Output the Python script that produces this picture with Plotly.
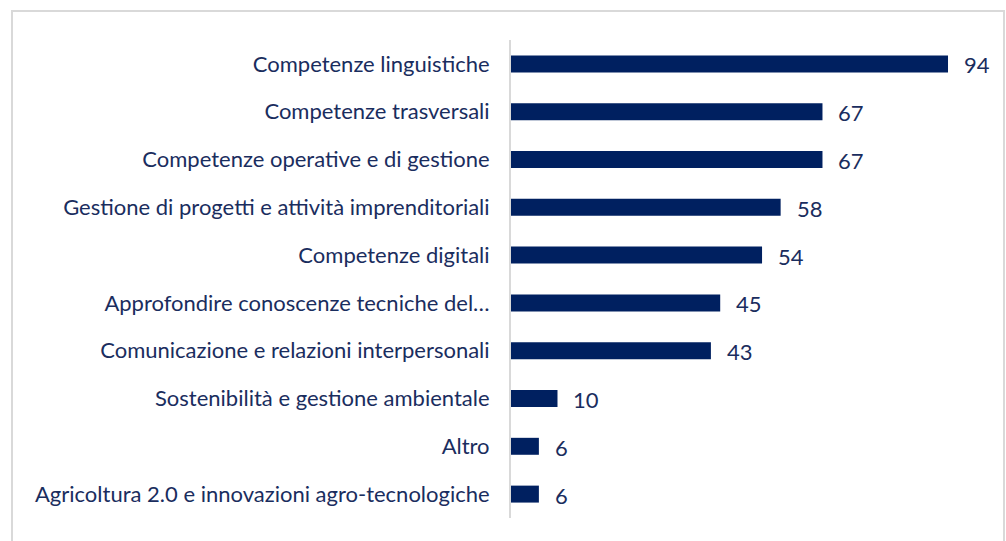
import plotly.graph_objects as go

# Survey categories (top to bottom as displayed) and their counts
categories = [
    "Competenze linguistiche",
    "Competenze trasversali",
    "Competenze operative e di gestione",
    "Gestione di progetti e attività imprenditoriali",
    "Competenze digitali",
    "Approfondire conoscenze tecniche del…",
    "Comunicazione e relazioni interpersonali",
    "Sostenibilità e gestione ambientale",
    "Altro",
    "Agricoltura 2.0 e innovazioni agro-tecnologiche",
]
values = [94, 67, 67, 58, 54, 45, 43, 10, 6, 6]

BAR_COLOR = "#002060"
TEXT_COLOR = "#1A2D5E"
FONT = "Lato"
FONT_SIZE = 22

W, H = 1006, 541
L, R, T, B = 511, 6, 40, 23
plot_w = W - L - R
plot_h = H - T - B
px_per_unit = 4.649
x_max = plot_w / px_per_unit

fig = go.Figure(
    go.Bar(
        x=values,
        y=categories,
        orientation="h",
        marker=dict(color=BAR_COLOR, line=dict(width=0)),
        width=0.355,
        hoverinfo="skip",
    )
)

# value labels placed just right of each bar end
for cat, val in zip(categories, values):
    fig.add_annotation(
        x=val, y=cat, text=str(val), showarrow=False,
        xanchor="left", yanchor="middle", xshift=14, yshift=-1,
        font=dict(family=FONT, size=FONT_SIZE, color=TEXT_COLOR),
    )

# light grey frame around the chart
fig.add_shape(
    type="rect", xref="paper", yref="paper",
    x0=(12 - L) / plot_w, x1=(1004 - L) / plot_w,
    y0=(T + plot_h - 548) / plot_h, y1=(T + plot_h - 11) / plot_h,
    line=dict(color="#D9D9D9", width=2), fillcolor="rgba(0,0,0,0)", layer="below",
)

fig.update_layout(
    width=W, height=H,
    margin=dict(l=L, r=R, t=T, b=B),
    paper_bgcolor="white", plot_bgcolor="white",
    showlegend=False,
    font=dict(family=FONT, size=FONT_SIZE, color=TEXT_COLOR),
)
fig.update_xaxes(range=[0, x_max], visible=False, fixedrange=True)
fig.update_yaxes(
    categoryorder="array", categoryarray=categories[::-1],
    autorange=False, range=[-0.5, len(categories) - 0.5],
    showline=True, linecolor="#D9D9D9", linewidth=2,
    showgrid=False, ticks="", ticklabelstandoff=15, fixedrange=True,
    tickfont=dict(family=FONT, size=FONT_SIZE, color=TEXT_COLOR),
)

fig.write_html("out.html", config={"displayModeBar": False})
